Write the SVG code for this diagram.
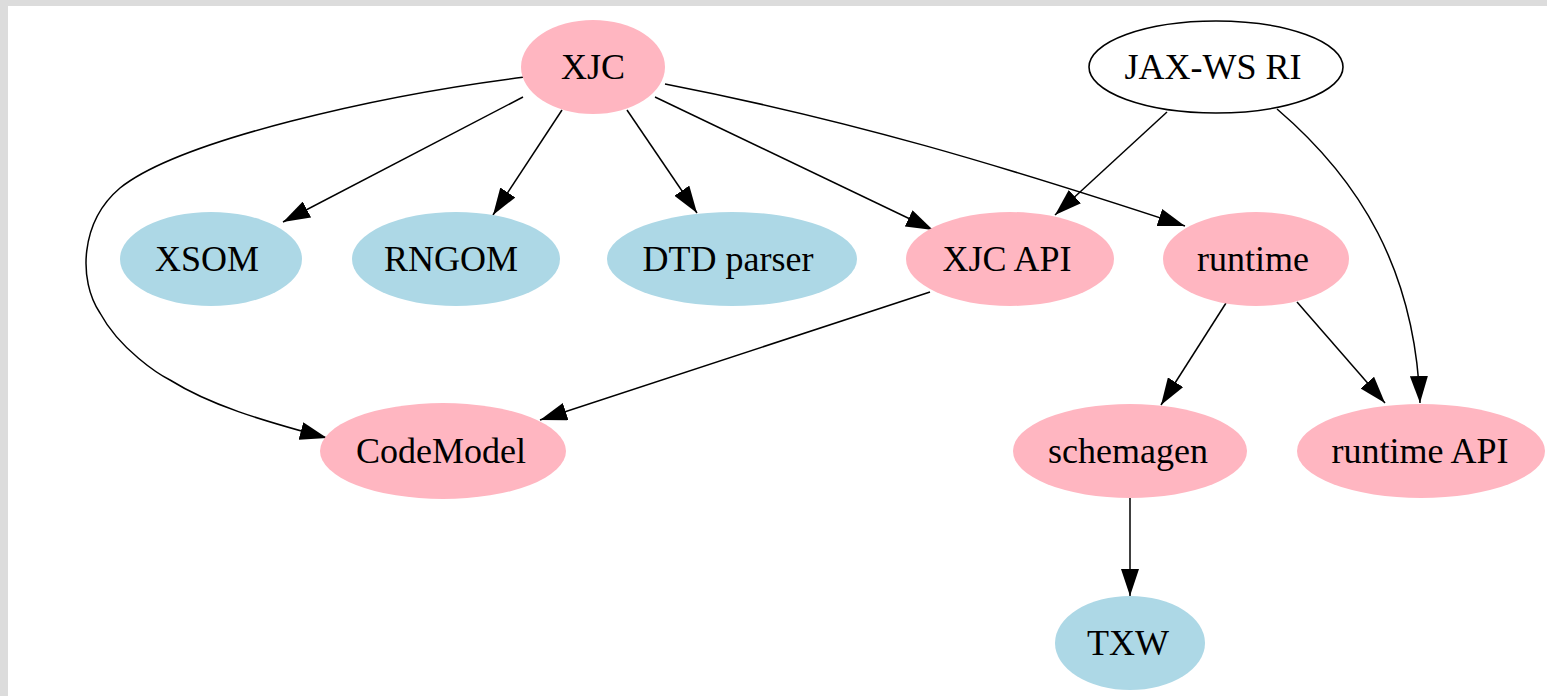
<svg xmlns="http://www.w3.org/2000/svg" width="1547" height="696" viewBox="0 0 1547 696">
<style>
.pink{fill:#ffb6c1;stroke:none}
.blue{fill:#add8e6;stroke:none}
.white{fill:#ffffff;stroke:#000000;stroke-width:1.6}
text{font-family:"Liberation Serif","Times New Roman",serif;font-size:36px;fill:#000000;text-anchor:middle}
.edge{fill:none;stroke:#000000;stroke-width:1.5;marker-end:url(#arr)}
</style>
<defs>
<marker id="arr" viewBox="0 0 27 18" refX="27" refY="9" markerWidth="27" markerHeight="18" markerUnits="userSpaceOnUse" orient="auto">
<path d="M0,0 L27,9 L0,18 z" fill="#000000"/>
</marker>
</defs>
<rect x="0" y="0" width="1547" height="696" fill="#dcdcdc"/>
<rect x="8" y="6" width="1539" height="690" fill="#ffffff"/>
<g id="connectors">
<path class="edge" d="M523,97 L283,222"/>
<path class="edge" d="M562,110 L493,215"/>
<path class="edge" d="M627,110 L697,213"/>
<path class="edge" d="M655,97 L933,230"/>
<path class="edge" d="M665,84 C850,120 1000,165 1185,226"/>
<path class="edge" d="M525,77 C380,95 180,140 120,188 C80,222 78,280 100,313 C120,350 160,375 170,380 C210,405 260,420 327,438"/>
<path class="edge" d="M930,292 L540,420"/>
<path class="edge" d="M1167,112 L1055,215"/>
<path class="edge" d="M1277,109 C1360,180 1415,270 1420,403"/>
<path class="edge" d="M1297,302 L1385,403"/>
<path class="edge" d="M1226,303 L1161,405"/>
<path class="edge" d="M1130,498 L1130,596"/>
</g>
<g id="XJC"><ellipse class="pink" cx="593" cy="67" rx="72" ry="47"/><text x="593" y="79">XJC</text></g>
<g id="JAX-WS_RI"><ellipse class="white" cx="1216" cy="67" rx="127" ry="46"/><text x="1213" y="79">JAX-WS RI</text></g>
<g id="XSOM"><ellipse class="blue" cx="211" cy="259" rx="91" ry="47"/><text x="207" y="271">XSOM</text></g>
<g id="RNGOM"><ellipse class="blue" cx="456" cy="259" rx="104" ry="47"/><text x="451" y="271">RNGOM</text></g>
<g id="DTD_parser"><ellipse class="blue" cx="732" cy="259" rx="125" ry="47"/><text x="728" y="271">DTD parser</text></g>
<g id="XJC_API"><ellipse class="pink" cx="1010" cy="259" rx="104" ry="47"/><text x="1007" y="271">XJC API</text></g>
<g id="runtime"><ellipse class="pink" cx="1256" cy="259" rx="93" ry="47"/><text x="1253" y="271">runtime</text></g>
<g id="CodeModel"><ellipse class="pink" cx="443" cy="451" rx="123" ry="48"/><text x="441" y="463">CodeModel</text></g>
<g id="schemagen"><ellipse class="pink" cx="1130" cy="451" rx="117" ry="47"/><text x="1128" y="463">schemagen</text></g>
<g id="runtime_API"><ellipse class="pink" cx="1421" cy="451" rx="124" ry="47"/><text x="1420" y="463">runtime API</text></g>
<g id="TXW"><ellipse class="blue" cx="1130" cy="643" rx="75" ry="47"/><text x="1128" y="655">TXW</text></g>
</svg>
